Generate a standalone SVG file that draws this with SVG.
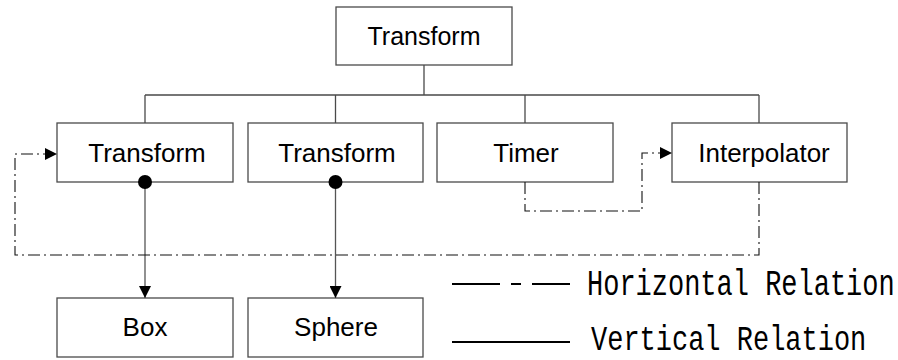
<svg xmlns="http://www.w3.org/2000/svg" width="898" height="360" viewBox="0 0 898 360">
  <style>
    .box { fill: #ffffff; stroke: #4a4a4a; stroke-width: 1.3; }
    .lbl { font-family: "Liberation Sans", Arial, sans-serif; font-size: 26px; fill: #000; text-anchor: middle; }
    .tree { fill: none; stroke: #4a4a4a; stroke-width: 1.3; }
    .solid { fill: none; stroke: #555555; stroke-width: 1.3; }
    .dashdot { fill: none; stroke: #111111; stroke-width: 1.1; stroke-dasharray: 12 4 2 4; }
    .legend { font-family: "Liberation Mono", "Courier New", monospace; font-size: 27px; fill: #000; }
    .key { stroke: #000; stroke-width: 2; }
  </style>
  <defs>
    <marker id="arrow" viewBox="0 0 12 12" refX="12" refY="6" markerWidth="12" markerHeight="12" markerUnits="userSpaceOnUse" orient="auto">
      <path d="M0,0 L12,6 L0,12 Z" fill="#000"/>
    </marker>
  </defs>

  <g id="root">
    <rect class="box" x="336" y="7" width="176" height="58"/>
    <text class="lbl" x="424" y="45" style="font-size:25px">Transform</text>
  </g>
  <g id="transform1">
    <rect class="box" x="57" y="123" width="176" height="59"/>
    <text class="lbl" x="147" y="162">Transform</text>
  </g>
  <g id="transform2">
    <rect class="box" x="248" y="123" width="175" height="59"/>
    <text class="lbl" x="337" y="162">Transform</text>
  </g>
  <g id="timer">
    <rect class="box" x="437" y="123" width="176" height="59"/>
    <text class="lbl" x="526" y="162">Timer</text>
  </g>
  <g id="interpolator">
    <rect class="box" x="672" y="123" width="175" height="59"/>
    <text class="lbl" x="764" y="162">Interpolator</text>
  </g>
  <g id="box">
    <rect class="box" x="57" y="298" width="176" height="59"/>
    <text class="lbl" x="145" y="336">Box</text>
  </g>
  <g id="sphere">
    <rect class="box" x="248" y="298" width="175" height="59"/>
    <text class="lbl" x="336" y="336">Sphere</text>
  </g>

  <!-- tree lines, containment arrows and horizontal relations -->
  <g id="connectors">
    <path class="tree" d="M424,65 V95 M145,95 H759 M145,95 V123 M335.5,95 V123 M525,95 V123 M759,95 V123"/>
    <path class="solid" d="M145,182 V298" marker-end="url(#arrow)"/>
    <path class="solid" d="M335.5,182 V298" marker-end="url(#arrow)"/>
    <circle cx="145" cy="182" r="7" fill="#000"/>
    <circle cx="335.5" cy="182" r="7" fill="#000"/>
    <path class="dashdot" d="M759,182 V255 H15 V154 H57" marker-end="url(#arrow)"/>
    <path class="dashdot" d="M525,182 V211 H642 V153 H672" marker-end="url(#arrow)"/>
  </g>

  <!-- legend: narrow, tall lettering via vertical stretch -->
  <g id="legend">
    <path class="key" d="M452,284 H500 M511,284 H521 M532,284 H570"/>
    <path class="key" d="M452,342 H570"/>
    <text class="legend" transform="translate(587,295) scale(1,1.4)">Horizontal Relation</text>
    <text class="legend" transform="translate(591,350) scale(1,1.3)">Vertical Relation</text>
  </g>
</svg>
